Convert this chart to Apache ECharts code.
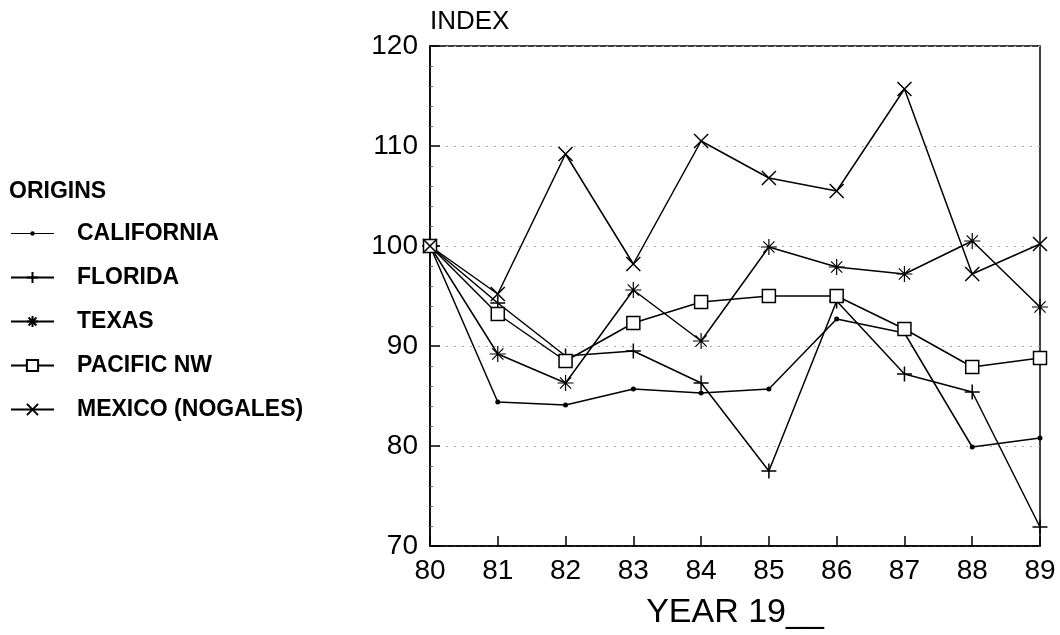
<!DOCTYPE html>
<html>
<head>
<meta charset="utf-8">
<script src="https://cdn.jsdelivr.net/npm/echarts@6/dist/echarts.min.js"></script>
<style>
html,body{margin:0;padding:0;background:#fff;}
#chart{width:1060px;height:635px;}
</style>
</head>
<body>
<div id="chart"></div>
<script>
const years = ['80','81','82','83','84','85','86','87','88','89'];
const california = [100, 84.4, 84.1, 85.7, 85.3, 85.7, 92.7, 91.3, 79.9, 80.8];
const florida    = [100, 94.3, 89.0, 89.5, 86.3, 77.5, 94.5, 87.2, 85.4, 71.9];
const texas      = [100, 89.2, 86.3, 95.6, 90.5, 99.9, 97.9, 97.2, 100.5, 93.9];
const pacificNW  = [100, 93.2, 88.5, 92.3, 94.4, 95.0, 95.0, 91.7, 87.9, 88.8];
const mexico     = [100, 95.2, 109.2, 98.2, 110.5, 106.8, 105.5, 115.7, 97.2, 100.2];
const seriesNames = ['CALIFORNIA','FLORIDA','TEXAS','PACIFIC NW','MEXICO (NOGALES)'];

const FONT = '"Liberation Sans", Arial, Helvetica, sans-serif';
const PLUS = 'path://M0,5 L10,5 M5,0 L5,10';
const STAR = 'path://M5,0 L5,10 M0,5 L10,5 M1.5,1.5 L8.5,8.5 M1.5,8.5 L8.5,1.5';
const CROSS = 'path://M0,0 L10,10 M0,10 L10,0';
const CAL_ICON = 'path://M0,0 M43,14 M0,6.4 L43,6.4 L43,7.6 L0,7.6 Z M19.3,7 A2.2,2.2 0 1 1 23.7,7 A2.2,2.2 0 1 1 19.3,7 Z';

function mk(name, data, symbol, size, itemStyle) {
  return {
    name: name, type: 'line', data: data,
    symbol: symbol, symbolSize: size,
    showSymbol: true, animation: false,
    lineStyle: {color: '#000', width: 1.5},
    itemStyle: itemStyle,
    emphasis: {disabled: true}
  };
}
const stroked = {color: '#000', borderColor: '#000', borderWidth: 1.5};
const strokedThin = {color: '#000', borderColor: '#000', borderWidth: 1.2};

const chart = echarts.init(document.getElementById('chart'));
chart.setOption({
  backgroundColor: '#fff',
  animation: false,
  textStyle: {fontFamily: FONT, color: '#000'},
  title: {
    text: 'ORIGINS', left: 4, top: 175,
    textStyle: {fontFamily: FONT, fontSize: 23, fontWeight: 'bold', color: '#000'}
  },
  legend: {
    orient: 'vertical', left: 10, top: 222, padding: 0,
    itemWidth: 43, itemHeight: 14, itemGap: 21,
    selectedMode: false,
    textStyle: {fontFamily: FONT, fontSize: 23, fontWeight: 'bold', color: '#000', lineHeight: 22, padding: [0,0,0,18]},
    data: [
      {name: seriesNames[0], icon: CAL_ICON},
      seriesNames[1], seriesNames[2], seriesNames[3], seriesNames[4]
    ]
  },
  grid: {
    left: 430, right: 20, top: 46, bottom: 89,
    show: true, borderColor: '#000', borderWidth: 1.5, backgroundColor: 'transparent'
  },
  xAxis: {
    type: 'category', data: years, boundaryGap: false,
    name: 'YEAR 19__', nameLocation: 'middle', nameGap: 50,
    nameTextStyle: {fontFamily: FONT, fontSize: 34, color: '#000'},
    axisLine: {lineStyle: {color: '#000', width: 1.5}},
    axisTick: {inside: true, length: 10, lineStyle: {color: '#000', width: 1.5}},
    axisLabel: {fontFamily: FONT, fontSize: 28, color: '#000', margin: 11},
    splitLine: {show: false}
  },
  yAxis: {
    type: 'value', min: 70, max: 120, interval: 10,
    name: 'INDEX', nameLocation: 'end', nameGap: 11,
    nameTextStyle: {fontFamily: FONT, fontSize: 26, color: '#000', align: 'left', verticalAlign: 'bottom'},
    axisLine: {show: true, lineStyle: {color: '#000', width: 1.5}},
    axisTick: {show: true, inside: true, length: 10, lineStyle: {color: '#000', width: 1.5}},
    minorTick: {show: true, splitNumber: 5, length: 3, lineStyle: {color: '#666', width: 1}},
    axisLabel: {fontFamily: FONT, fontSize: 28, color: '#000', margin: 12},
    splitLine: {show: true, lineStyle: {color: '#aaa', width: 1, type: [2, 6]}}
  },
  series: [
    mk(seriesNames[0], california, 'circle', 5, {color: '#000'}),
    mk(seriesNames[1], florida, PLUS, 15, stroked),
    mk(seriesNames[2], texas, STAR, 16, strokedThin),
    mk(seriesNames[3], pacificNW, 'rect', 13, {color: '#fff', borderColor: '#000', borderWidth: 1.5}),
    mk(seriesNames[4], mexico, CROSS, 14, stroked)
  ]
});
</script>
</body>
</html>
